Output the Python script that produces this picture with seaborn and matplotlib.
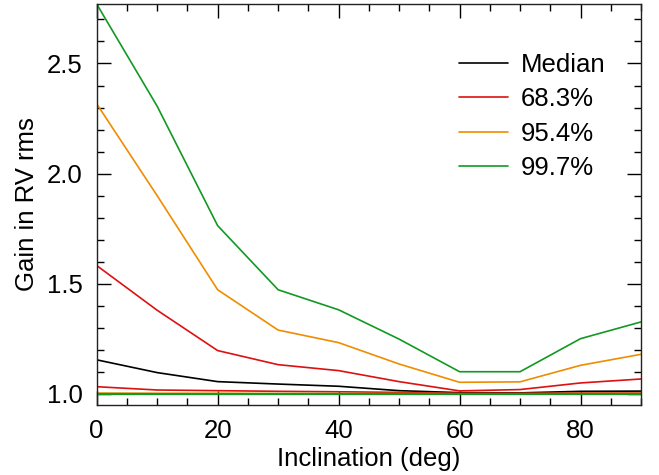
import numpy as np
import pandas as pd
import matplotlib
matplotlib.use('Agg')
import matplotlib.pyplot as plt
import seaborn as sns
from matplotlib.ticker import MultipleLocator

# inclination grid (deg)
incl = [0, 10, 20, 30, 40, 50, 60, 70, 80, 90]

# median gain
median = [1.155, 1.097, 1.056, 1.045, 1.035, 1.015, 1.006, 1.005, 1.012, 1.013]

# upper / lower bounds of the confidence intervals
up_683 = [1.583, 1.38, 1.197, 1.133, 1.106, 1.056, 1.014, 1.020, 1.050, 1.068]
lo_683 = [1.033, 1.018, 1.015, 1.012, 1.010, 1.007, 1.003, 1.003, 1.004, 1.004]
up_954 = [2.317, 1.90, 1.473, 1.290, 1.233, 1.136, 1.053, 1.055, 1.130, 1.180]
lo_954 = [1.004, 1.003, 1.003, 1.002, 1.002, 1.002, 1.001, 1.001, 1.002, 1.002]
up_997 = [2.77, 2.306, 1.764, 1.473, 1.382, 1.249, 1.101, 1.101, 1.251, 1.327]
lo_997 = [1.0, 1.0, 1.0, 1.0, 1.0, 1.0, 1.0, 1.0, 1.0, 1.0]

labels = ['Median', '68.3%', '95.4%', '99.7%']
colors = ['black', '#dd1111', '#f08c00', '#119922']

sns.set_style('ticks')
plt.rcParams['font.family'] = ['Liberation Sans', 'DejaVu Sans']
plt.rcParams['text.color'] = 'black'
plt.rcParams['axes.labelcolor'] = 'black'
plt.rcParams['xtick.color'] = 'black'
plt.rcParams['ytick.color'] = 'black'

fs = 18.5

fig = plt.figure(figsize=(6.59, 4.75), dpi=100)
ax = fig.add_axes([0.1467, 0.1474, 0.826, 0.8442])

sns.lineplot(x=incl, y=median, color=colors[0], label=labels[0], lw=1.2, ax=ax)
for up, lo, lab, c in zip([up_683, up_954, up_997], [lo_683, lo_954, lo_997], labels[1:], colors[1:]):
    sns.lineplot(x=incl, y=up, color=c, label=lab, lw=1.2, ax=ax)
    sns.lineplot(x=incl, y=lo, color=c, lw=1.6 if c == colors[3] else 1.2, ax=ax)

ax.set_xlim(0, 90)
ax.set_ylim(0.95, 2.77)
ax.xaxis.set_major_locator(MultipleLocator(20))
ax.xaxis.set_minor_locator(MultipleLocator(5))
ax.yaxis.set_major_locator(MultipleLocator(0.5))
ax.yaxis.set_minor_locator(MultipleLocator(0.1))
ax.yaxis.set_major_formatter(matplotlib.ticker.FormatStrFormatter('%.1f'))
ax.tick_params(which='both', direction='in', top=True, right=True, labelsize=fs, width=1)
ax.tick_params(which='major', length=10, pad=10)
ax.tick_params(which='minor', length=5)
for s in ax.spines.values():
    s.set_linewidth(1)
    s.set_color('#222222')

ax.set_xlabel('Inclination (deg)', fontsize=fs, labelpad=3)
ax.set_ylabel('Gain in RV rms', fontsize=fs, labelpad=6)

ax.legend(loc='upper right', bbox_to_anchor=(0.977, 0.935), frameon=False, fontsize=fs,
          handlelength=1.9, handletextpad=0.5, labelspacing=0.4)

fig.savefig('out.png', dpi=100)
